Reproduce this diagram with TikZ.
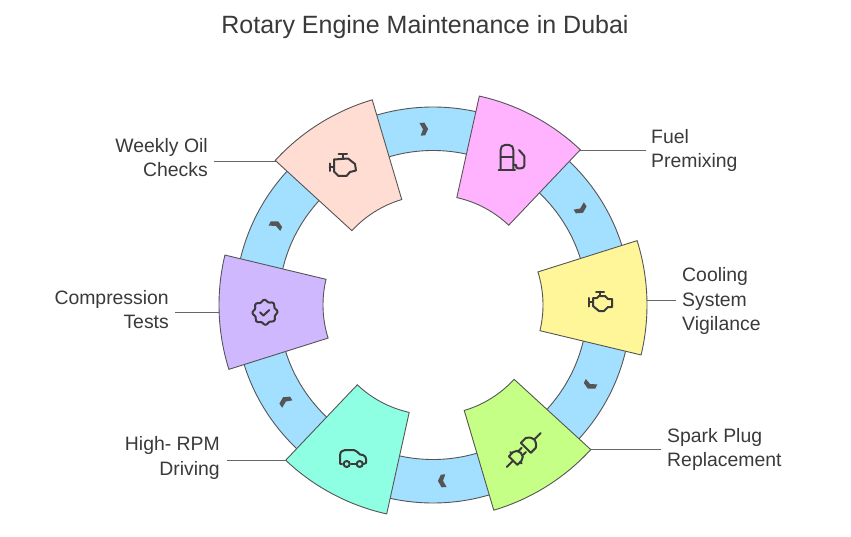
\documentclass[tikz,border=0pt]{standalone}
\usepackage{fontspec}
\setmainfont{Liberation Sans}
\definecolor{bandc}{HTML}{A3DFFF}
\definecolor{peachc}{HTML}{FFDDD2}
\definecolor{pinkc}{HTML}{FFB3FF}
\definecolor{yellowc}{HTML}{FFF599}
\definecolor{greenc}{HTML}{C5FF85}
\definecolor{tealc}{HTML}{8FFFE3}
\definecolor{purplec}{HTML}{D0B8FF}
\definecolor{edgec}{HTML}{555555}
\definecolor{inkc}{HTML}{3A3A3A}
\definecolor{leadc}{HTML}{666666}
\tikzset{
  lab/.style={font=\fontsize{19.4}{24.5}\selectfont, text=inkc, inner sep=0pt, align=#1},
  lead/.style={draw=leadc, line width=0.9pt},
  icon/.style={draw=inkc, line width=2pt, line join=round, line cap=round},
  chev/.style={fill=edgec, draw=none},
  seg/.style={draw=edgec, line width=0.9pt, line join=miter}
}
\newcommand{\segment}[2]{%
  \path[seg, fill=#2] (#1-15.5:214pt) arc[start angle=#1-15.5, end angle=#1+15.5, radius=214pt]
    -- (#1+15.5:110pt) arc[start angle=#1+15.5, end angle=#1-15.5, radius=110pt] -- cycle;}
\newcommand{\chevron}[1]{%
  \begin{scope}[shift={(#1:176pt)}, rotate=#1-90]
  \path[chev] (-4,6.5) -- (1,6.5) -- (4.3,0) -- (1,-6.2) -- (-3.4,-6.2) -- (-0.8,0) -- cycle;
  \end{scope}}
\begin{document}
\begin{tikzpicture}[x=1pt,y=-1pt]
\useasboundingbox[fill=white] (0,0) rectangle (851,537);
\node[font=\fontsize{25}{28}\selectfont, text=inkc, inner sep=0pt] (title) at (425,27) {Rotary Engine Maintenance in Dubai};

% labels
\node[lab=right, anchor=east] (lpeach) at (208,157.5) {Weekly Oil\\Checks};
\node[lab=left, anchor=west] (lpink) at (651,150.5) {Fuel\\Premixing};
\node[lab=left, anchor=west] (lyellow) at (682,301) {Cooling\\System\\Vigilance};
\node[lab=left, anchor=west] (lgreen) at (667,449.5) {Spark Plug\\Replacement};
\node[lab=right, anchor=east] (lteal) at (220,458) {High- RPM\\Driving};
\node[lab=right, anchor=east] (lpurple) at (169,309.5) {Compression\\Tests};

% leader ends
\coordinate (epeach) at (214,161);
\coordinate (epink) at (646,150);
\coordinate (eyellow) at (676,300.5);
\coordinate (egreen) at (661,449);
\coordinate (eteal) at (227,460);
\coordinate (epurple) at (175,312);
\coordinate (tpeach) at (276,161);
\coordinate (tpink) at (580,150);
\coordinate (tyellow) at (647,300.5);
\coordinate (tgreen) at (590,449);
\coordinate (tteal) at (287,460);
\coordinate (tpurple) at (219,312);
\draw[lead] (tpeach) -- (epeach);
\draw[lead] (tpink) -- (epink);
\draw[lead] (tyellow) -- (eyellow);
\draw[lead] (tgreen) -- (egreen);
\draw[lead] (tteal) -- (eteal);
\draw[lead] (tpurple) -- (epurple);

% ring
\begin{scope}[shift={(433,305)}, y=1pt]
  \path[fill=bandc, even odd rule, draw=edgec, line width=0.9pt] (0,0) circle[radius=198pt] (0,0) circle[radius=154.5pt];
  \chevron{93}\chevron{33}\chevron{-27}\chevron{-87}\chevron{-147}\chevron{153}
  \segment{122}{peachc}
  \segment{62}{pinkc}
  \segment{2}{yellowc}
  \segment{-58}{greenc}
  \segment{-118}{tealc}
  \segment{-178}{purplec}
\end{scope}

% peach: engine
\begin{scope}[icon]
  \draw (338.5,154.5) -- (347,154.5) (342.7,154.5) -- (342.7,158.5);
  \draw (334,159.5) -- (348,158.5) -- (355,164) -- (356,170.5) -- (350,172) -- (346.5,176) -- (338.5,176) -- (334,171.5) -- cycle;
  \draw (329.5,163.5) -- (329.5,171) (329.5,167.3) -- (334,167.3);
\end{scope}
% pink: fuel pump
\begin{scope}[icon]
  \draw (498.5,170) -- (515,170);
  \draw (500.7,170) -- (500.7,150) .. controls (500.7,147) and (502,145) .. (505,145) -- (509,145) .. controls (512,145) and (513.3,147) .. (513.3,150) -- (513.3,170);
  \draw (500.7,156.7) -- (513.3,156.7);
  \draw (513.3,165) -- (516,165) -- (516.5,167.5) .. controls (517,169) and (524,169) .. (524.3,166) -- (524.3,156) -- (519,150);
\end{scope}
% yellow: check engine
\begin{scope}[icon]
  \draw (596,291.7) -- (604,291.7) (600,291.7) -- (600,296);
  \draw (593,298) -- (597,298) -- (599,296) -- (605,296) -- (608,299) -- (612,299) -- (612,307) -- (608,307) -- (604,311) -- (599,311) -- (593,306) -- cycle;
  \draw (589,298) -- (589,306.5) (589,302.3) -- (593,302.3);
\end{scope}
% green: plug
\begin{scope}[shift={(523.7,450)}, rotate=45, y=1pt, icon]
  \draw (-24,0) -- (-15,0);
  \draw (-15,-6) -- (-15,6) -- (-9,6) .. controls (-6,6) and (-4,3) .. (-4,0) .. controls (-4,-3) and (-6,-6) .. (-9,-6) -- cycle;
  \draw (-11,-8) -- (-11,-6) (-11,6) -- (-11,8);
  \draw (-4,-3) -- (0,-3) (-4,3) -- (0,3);
  \draw (3,-7) -- (3,7) -- (10,7) .. controls (13,5) and (15,2.5) .. (15,0) .. controls (15,-2.5) and (13,-5) .. (10,-7) -- cycle;
  \draw (15,0) -- (24,0);
\end{scope}
% teal: car
\begin{scope}[icon]
  \draw (342,464) -- (340.5,464) .. controls (340,464) and (340,463) .. (340,462) -- (340,456) .. controls (340,452) and (342,450) .. (345,450) -- (354,450) .. controls (356,450) and (358,453) .. (360,454.5) -- (363,455) .. controls (365,456) and (366,457) .. (366,459) -- (366,463) -- (363.5,464);
  \draw (351,464) -- (356,464);
  \draw (346.7,464) circle[radius=3pt];
  \draw (359.7,464) circle[radius=3pt];
\end{scope}
% purple: badge
\begin{scope}[icon, shift={(265,312.3)}]
  \draw[smooth cycle, samples=40] plot[domain=0:351, samples=40] (\x:{11.5+1.1*cos(8*\x+22)});
  \draw (-5,0) -- (-1.7,3.3) -- (4.3,-2.3);
\end{scope}
\end{tikzpicture}
\end{document}
